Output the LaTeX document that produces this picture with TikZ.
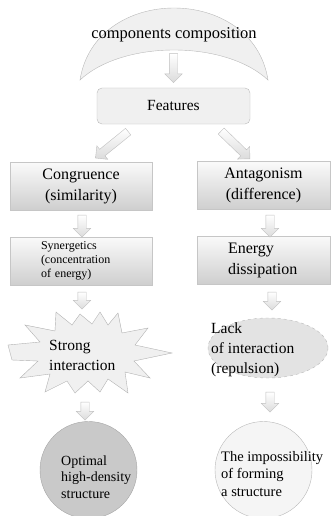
\documentclass[tikz,border=0pt]{standalone}
\usepackage{fontspec}
\setmainfont{Liberation Serif}
\usetikzlibrary{shapes.arrows,shapes.geometric}

\tikzset{
  featbox/.style={draw=gray!55, fill=gray!12, rounded corners=5pt, minimum width=153pt,
    minimum height=36pt, inner sep=0pt, font=\fontsize{15.5}{19}\selectfont},
  gradbox/.style={draw=gray!45, top color=gray!4, bottom color=gray!38, inner sep=0pt,
    minimum height=48pt, font=\fontsize{16}{21}\selectfont},
  darrow/.style={single arrow, draw=gray!50, top color=white, bottom color=gray!28,
    minimum width=17pt, single arrow head extend=4.5pt, inner sep=4pt},
  txt/.style={anchor=west, align=left, inner sep=0pt}
}

\begin{document}
\begin{tikzpicture}[x=1pt,y=-1pt]
    \useasboundingbox (0,0) rectangle (330,516);

    % crescent on top
    \draw[gray!55, fill=gray!12] (80,80) .. controls (95,-16) and (253,-16) .. (268,80)
        .. controls (225,40) and (123,40) .. (80,80) -- cycle;
    \node[inner sep=0pt, font=\fontsize{16.5}{19}\selectfont] (comp) at (174,35) {components composition};

    % boxes
    \node[featbox] (feat) at (173.5,106) {Features};
    \node[gradbox, minimum width=142pt, align=center] (congr) at (81,186) {Congruence\\(similarity)};
    \node[gradbox, minimum width=133pt, align=center] (antag) at (263.5,185.5) {Antagonism\\(difference)};
    \node[gradbox, minimum width=142pt, inner xsep=31pt, text width=80pt, align=left,
        font=\fontsize{12}{14}\selectfont] (syn) at (81,261) {Synergetics\\(concentration\\of energy)};
    \node[gradbox, minimum width=133pt, inner xsep=31pt, text width=71pt, align=left] (energ) at (263.5,260)
        {Energy\\dissipation};

    % strong interaction (burst)
    \draw[gray!60, fill=gray!12] (8,345) -- (40,342) -- (25,325) -- (55,331) -- (56,312) -- (72,325)
        -- (80,314) -- (92,324) -- (100,312) -- (108,325) -- (118,313) -- (122,333) -- (148,328)
        -- (135,345) -- (172,353) -- (134,361) -- (150,378) -- (125,372) -- (128,393) -- (108,379)
        -- (100,392) -- (88,381) -- (75,393) -- (67,381) -- (45,392) -- (50,374) -- (20,378)
        -- (38,361) -- (12,360) -- cycle;
    \node[txt, font=\fontsize{15.5}{20}\selectfont] (strong) at (49,355) {Strong\\interaction};

    % lack of interaction
    \node[ellipse, draw=gray!55, dashed, fill=gray!22, minimum width=120pt, minimum height=60pt]
        (lack) at (268,348) {};
    \node[txt, font=\fontsize{15.5}{20}\selectfont] (lacktxt) at (211,350) {Lack\\of interaction\\(repulsion)};

    % results
    \node[circle, draw=gray!70, fill=gray!42, minimum size=97pt] (optim) at (88.5,470) {};
    \node[txt, font=\fontsize{14}{16.5}\selectfont] (optimtxt) at (61,477) {Optimal\\high-density\\structure};
    \node[circle, draw=gray!55, fill=gray!8, minimum size=97pt] (imposs) at (263.5,470) {};
    \node[txt, font=\fontsize{14.5}{17.5}\selectfont] (impostxt) at (221,474) {The impossibility\\of forming\\a structure};

    % block arrows
    \node[darrow, shape border rotate=270, minimum height=29pt] (a0) at (173.5,66) {};
    \node[darrow, rotate=219, minimum height=42pt] (a1) at (113.5,143.5) {};
    \node[darrow, rotate=316, minimum height=40pt] (a2) at (234,143.5) {};
    \node[darrow, shape border rotate=270, minimum height=22pt] (a3) at (82,224) {};
    \node[darrow, shape border rotate=270, minimum height=22pt] (a4) at (270,224) {};
    \node[darrow, shape border rotate=270, minimum height=17pt] (a5) at (82,298.5) {};
    \node[darrow, shape border rotate=270, minimum height=18pt] (a6) at (272,299) {};
    \node[darrow, shape border rotate=270, minimum height=18pt] (a7) at (85,409) {};
    \node[darrow, shape border rotate=270, minimum height=20pt] (a8) at (270,400) {};
\end{tikzpicture}
\end{document}
